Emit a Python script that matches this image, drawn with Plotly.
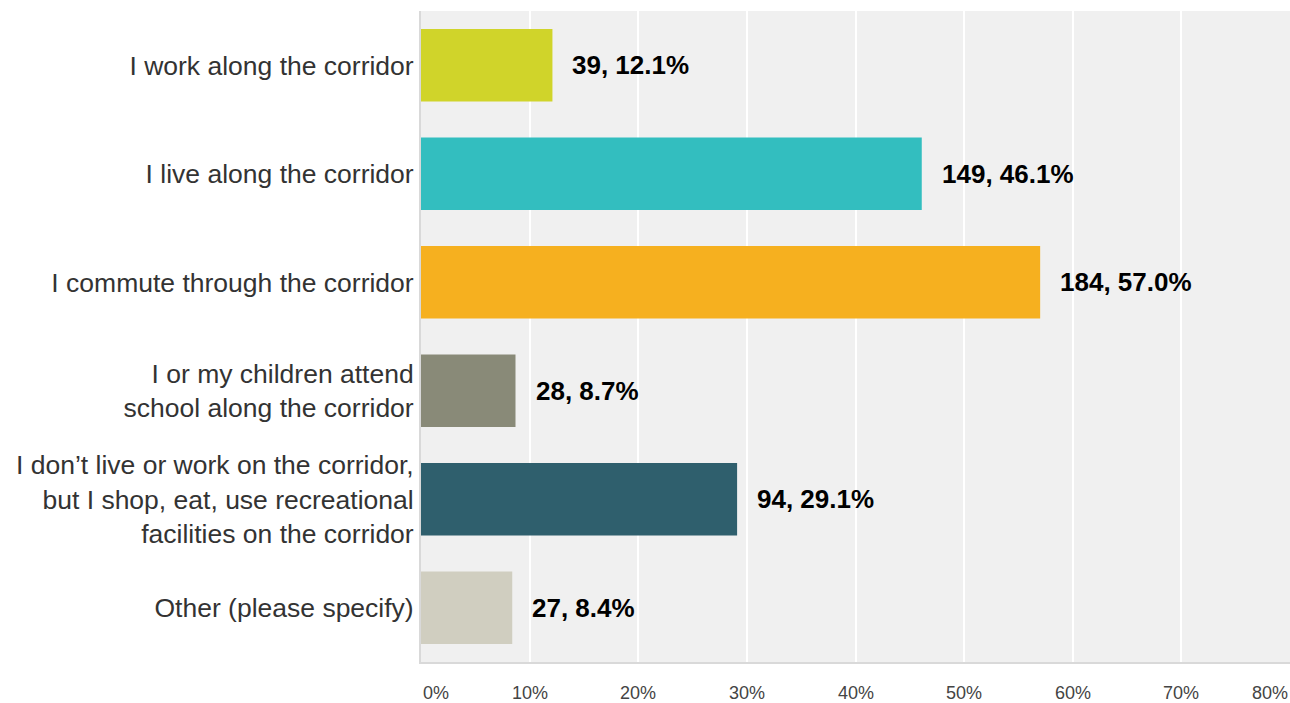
import plotly.graph_objects as go

categories = [
    "I work along the corridor",
    "I live along the corridor",
    "I commute through the corridor",
    "I or my children attend<br>school along the corridor",
    "I don’t live or work on the corridor,<br>but I shop, eat, use recreational<br>facilities on the corridor",
    "Other (please specify)",
]
counts = [39, 149, 184, 28, 94, 27]
percents = [12.1, 46.1, 57.0, 8.7, 29.1, 8.4]
colors = ["#D0D42A", "#33BEBF", "#F6B01F", "#898A78", "#2F5F6D", "#D0CEC0"]
tick_vals = [0, 10, 20, 30, 40, 50, 60, 70, 80]
tick_text = ["0%", "10%", "20%", "30%", "40%", "50%", "60%", "70%", "80%"]

fig = go.Figure()
fig.add_trace(go.Bar(
    x=percents, y=categories, orientation="h",
    marker=dict(color=colors, line=dict(width=0)),
    hoverinfo="skip",
))

annotations = []
for c, p, cat in zip(counts, percents, categories):
    annotations.append(dict(
        x=p, y=cat, xref="x", yref="y", text=f"<b>{c}, {p:.1f}%</b>",
        showarrow=False, xanchor="left", xshift=18,
        font=dict(family="Arial, Liberation Sans, sans-serif", size=26, color="#000000"),
    ))
for i, (v, t) in enumerate(zip(tick_vals, tick_text)):
    anchor = "center"
    if i == 0:
        anchor = "left"
    elif i == len(tick_vals) - 1:
        anchor = "right"
    annotations.append(dict(
        x=v, y=0, xref="x", yref="paper", text=t, showarrow=False,
        xanchor=anchor, yanchor="middle", yshift=-31,
        font=dict(family="Arial, Liberation Sans, sans-serif", size=18, color="#444444"),
    ))

fig.update_layout(
    width=1290, height=703,
    margin=dict(l=421, r=0, t=11, b=41),
    paper_bgcolor="#FFFFFF", plot_bgcolor="#F0F0F0",
    showlegend=False, bargap=0.33,
    annotations=annotations,
    font=dict(family="Arial, Liberation Sans, sans-serif"),
)
fig.update_xaxes(
    range=[0, 80], tickvals=tick_vals, showticklabels=False,
    showgrid=True, gridcolor="#FFFFFF", gridwidth=2, zeroline=False,
    showline=True, linecolor="#D9D9D9", linewidth=2, mirror=False,
    fixedrange=True,
)
fig.update_yaxes(
    categoryorder="array", categoryarray=categories[::-1],
    showgrid=False, zeroline=False,
    showline=True, linecolor="#D9D9D9", linewidth=2,
    tickfont=dict(family="Arial, Liberation Sans, sans-serif", size=26.5, color="#333333"),
    ticks="", ticklabelstandoff=0, fixedrange=True,
)

fig.write_html(
    "out.html",
    config={"displayModeBar": False},
    post_script="document.body.style.margin='0';document.body.style.overflow='hidden';",
)
